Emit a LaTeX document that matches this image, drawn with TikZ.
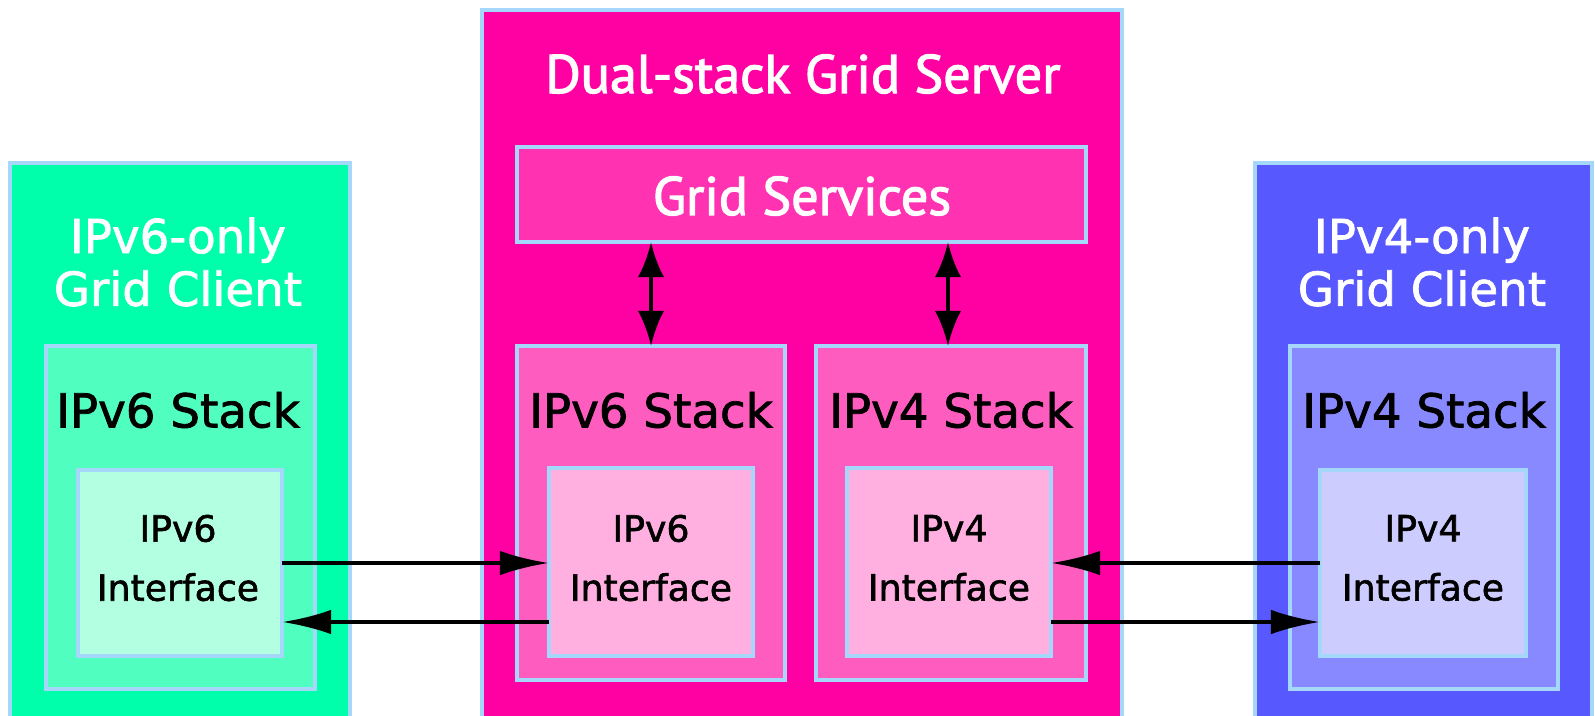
\documentclass[tikz,border=0pt]{standalone}
\usepackage{fontspec}
\setmainfont[FakeBold=1.6]{DejaVu Sans}
\newfontfamily\titlefont[FakeBold=2.2]{PT Sans}
\usetikzlibrary{arrows.meta}
\definecolor{bordc}{RGB}{165,215,250}
\definecolor{gOut}{RGB}{0,255,170}
\definecolor{gStk}{RGB}{80,255,192}
\definecolor{gIf}{RGB}{178,255,226}
\definecolor{pOut}{RGB}{255,0,162}
\definecolor{pSvc}{RGB}{255,50,178}
\definecolor{pStk}{RGB}{255,92,192}
\definecolor{pIf}{RGB}{255,176,224}
\definecolor{bOut}{RGB}{88,88,255}
\definecolor{bStk}{RGB}{136,136,255}
\definecolor{bIf}{RGB}{204,204,255}
\tikzset{
  box/.style={draw=bordc, line width=0.9pt, inner sep=0pt, outer sep=0pt},
  wtxt/.style={text=white, font=\fontsize{13.3}{16}\selectfont, align=center, inner sep=0pt},
  ttxt/.style={text=white, font=\titlefont\fontsize{15.4}{18}\selectfont, align=center, inner sep=0pt},
  stxt/.style={text=black, font=\fontsize{13.3}{16}\selectfont, inner sep=0pt},
  itxt/.style={text=black, font=\fontsize{10.3}{16.8}\selectfont, align=center, inner sep=0pt},
  arr/.style={line width=1.15pt, -{Latex[length=14pt,width=7pt]}},
  dbl/.style={line width=1.15pt, {Latex[length=10pt,width=7.5pt]}-{Latex[length=10pt,width=7.5pt]}},
}
\begin{document}
\begin{tikzpicture}[x=0.1mm,y=-0.1mm]
\clip (0,0) rectangle (1595,715);
\fill[white] (0,0) rectangle (1595,715);
% left client
\node[box, fill=gOut, minimum width=34mm, minimum height=55.7mm] (lout) at (180,441.5) {};
\node[box, fill=gStk, minimum width=26.9mm, minimum height=34.3mm] (lstk) at (180.5,517.5) {};
\node[box, fill=gIf, minimum width=20.4mm, minimum height=18.6mm] (lif) at (180,563) {};
\node[wtxt] (ltitle) at (178,262) {IPv6-only\\[-1pt]Grid Client};
\node[stxt] (lstkt) at (178,410) {IPv6 Stack};
\node[itxt] (lift) at (178,558) {IPv6\\Interface};
% server
\node[box, fill=pOut, minimum width=64mm, minimum height=71mm] (sout) at (802,365) {};
\node[box, fill=pSvc, minimum width=56.9mm, minimum height=9.5mm] (gs) at (801.5,194.5) {};
\node[box, fill=pStk, minimum width=26.8mm, minimum height=33.4mm] (s6stk) at (651,513) {};
\node[box, fill=pIf, minimum width=20.4mm, minimum height=18.8mm] (s6if) at (651,562) {};
\node[box, fill=pStk, minimum width=27mm, minimum height=33.4mm] (s4stk) at (951,513) {};
\node[box, fill=pIf, minimum width=20.4mm, minimum height=18.8mm] (s4if) at (949,562) {};
\node[ttxt] (stitle) at (803,74) {Dual-stack Grid Server};
\node[ttxt] (gst) at (802,196) {Grid Services};
\node[stxt] (s6stkt) at (651,410) {IPv6 Stack};
\node[stxt] (s4stkt) at (951,410) {IPv4 Stack};
\node[itxt] (s6ift) at (651,558) {IPv6\\Interface};
\node[itxt] (s4ift) at (949,558) {IPv4\\Interface};
% right client
\node[box, fill=bOut, minimum width=33.7mm, minimum height=55.7mm] (rout) at (1423.5,441.5) {};
\node[box, fill=bStk, minimum width=26.8mm, minimum height=34.3mm] (rstk) at (1424,517.5) {};
\node[box, fill=bIf, minimum width=20.6mm, minimum height=18.6mm] (rif) at (1423,563) {};
\node[wtxt] (rtitle) at (1422,262) {IPv4-only\\[-1pt]Grid Client};
\node[stxt] (rstkt) at (1424,410) {IPv4 Stack};
\node[itxt] (rift) at (1423,558) {IPv4\\Interface};
% connectors
\draw[arr] (lif.east) -- (s6if.west |- lif.east);
\draw[arr] ([yshift=-6mm]s6if.west) -- ([yshift=-6mm]lif.east |- s6if.west);
\draw[arr] (rif.west) -- (s4if.east |- rif.west);
\draw[arr] ([yshift=-6mm]s4if.east) -- ([yshift=-6mm]rif.west |- s4if.east);
\draw[dbl] (s6stk.north |- gs.south) -- (s6stk.north);
\draw[dbl] ([xshift=-0.3mm]s4stk.north |- gs.south) -- ([xshift=-0.3mm]s4stk.north);
\end{tikzpicture}
\end{document}
